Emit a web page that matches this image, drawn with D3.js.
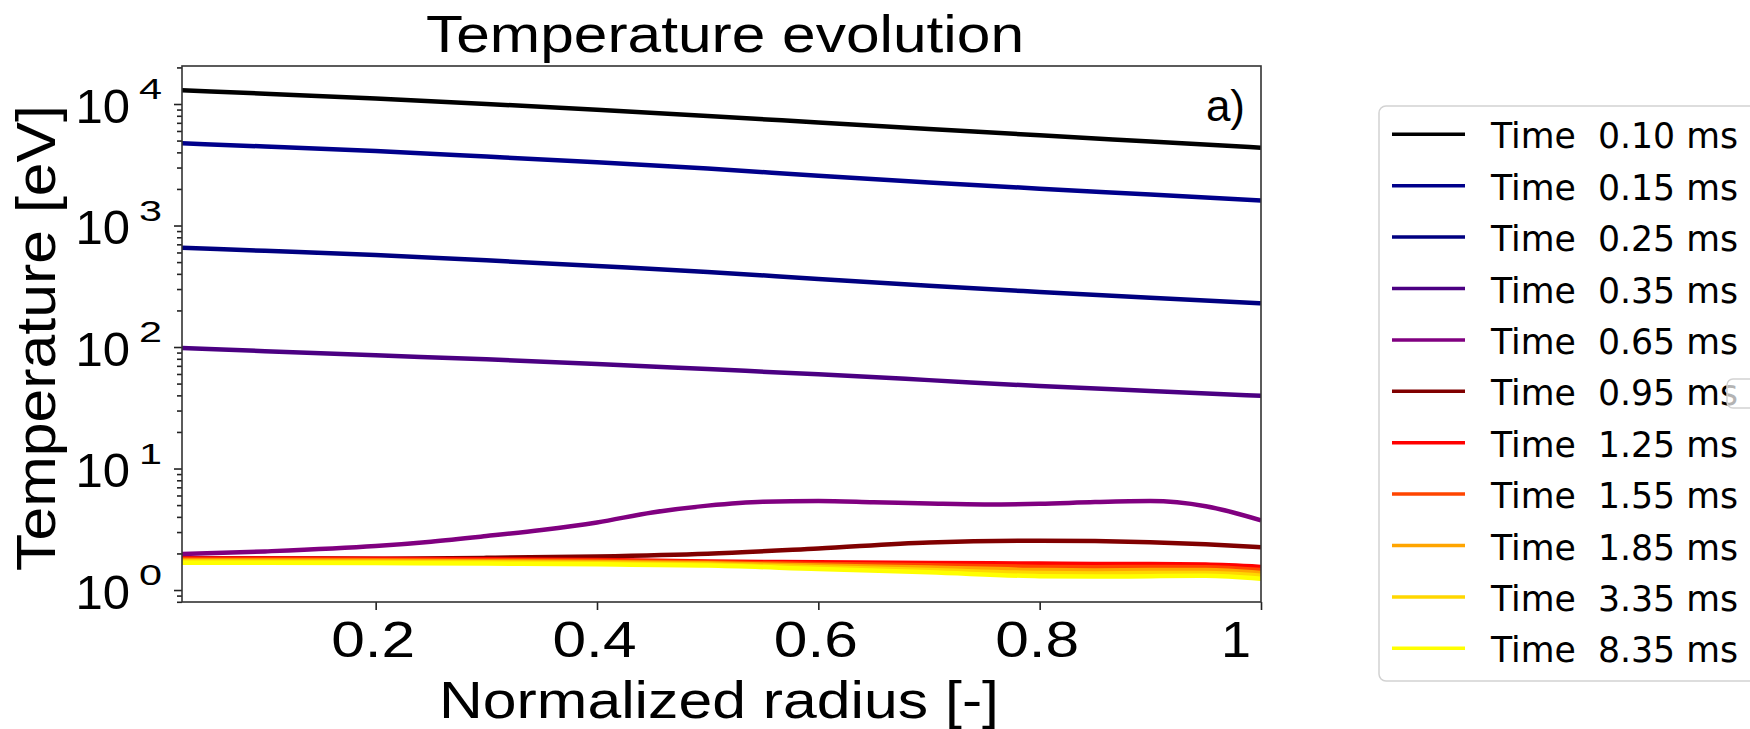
<!DOCTYPE html>
<html>
<head>
<meta charset="utf-8">
<script src="https://cdn.jsdelivr.net/npm/d3@7"></script>
<style>
  html, body { margin: 0; padding: 0; background: #fff; overflow: hidden; }
  text { font-family: "Liberation Sans", Arial, sans-serif; fill: #000; }
  .legend text { font-family: "DejaVu Sans", sans-serif; white-space: pre; }
</style>
</head>
<body>
<svg id="chart" width="1750" height="729"></svg>
<script>
// Radial grids (normalized radius) on which the profiles are sampled
const radiusCore = [0.025, 0.1, 0.2, 0.3, 0.4, 0.5, 0.6, 0.7, 0.8, 0.9, 1.0];
const radiusEdge = [0.025, 0.1, 0.2, 0.3, 0.4, 0.5, 0.6, 0.7, 0.8, 0.85, 0.9, 0.95, 1.0];
const radiusFine = [0.025, 0.1, 0.2, 0.25, 0.3, 0.35, 0.4, 0.45, 0.5, 0.55, 0.6, 0.65, 0.7, 0.75, 0.8, 0.85, 0.9, 0.95, 1.0];

// Electron temperature profiles [eV] at each time slice
const temp010 = [12970, 12150, 11110, 10010, 8960, 7970, 7050, 6240, 5520, 4910, 4370];
const temp015 = [4750, 4470, 4100, 3690, 3310, 2940, 2570, 2260, 2010, 1800, 1610];
const temp025 = [657, 619, 571, 517, 464, 415, 363, 319, 284, 254, 229];
const temp035 = [98.1, 92.5, 85.5, 79.2, 72.6, 65.8, 59.6, 53.4, 47.7, 43.5, 39.7];
const temp065 = [1.98, 2.08, 2.30, 2.50, 2.78, 3.12, 3.60, 4.35, 4.95, 5.33, 5.40, 5.28, 5.15, 5.06, 5.12, 5.30, 5.40, 4.90, 3.75];
const temp095 = [1.82, 1.82, 1.81, 1.84, 1.89, 1.99, 2.20, 2.46, 2.55, 2.53, 2.47, 2.38, 2.25];
const temp125 = [1.82, 1.82, 1.81, 1.79, 1.77, 1.72, 1.69, 1.67, 1.65, 1.64, 1.64, 1.62, 1.55];
const temp155 = [1.79, 1.78, 1.77, 1.76, 1.74, 1.69, 1.64, 1.60, 1.55, 1.54, 1.55, 1.54, 1.46];
const temp185 = [1.75, 1.75, 1.74, 1.72, 1.70, 1.66, 1.59, 1.53, 1.46, 1.45, 1.46, 1.46, 1.38];
const temp335 = [1.72, 1.71, 1.70, 1.69, 1.66, 1.62, 1.54, 1.46, 1.38, 1.37, 1.38, 1.38, 1.31];
const temp835 = [1.68, 1.68, 1.67, 1.65, 1.63, 1.59, 1.49, 1.40, 1.30, 1.29, 1.30, 1.31, 1.24];

const timeLabels = ["0.10", "0.15", "0.25", "0.35", "0.65", "0.95", "1.25", "1.55", "1.85", "3.35", "8.35"];
const seriesColors = ["#000000", "#00008b", "#000080", "#4b0082", "#800080", "#800000",
                      "#ff0000", "#ff4500", "#ffa500", "#ffd700", "#ffff00"];
const seriesRadius = [radiusCore, radiusCore, radiusCore, radiusCore, radiusFine, radiusEdge,
                      radiusEdge, radiusEdge, radiusEdge, radiusEdge, radiusEdge];
const seriesTemp = [temp010, temp015, temp025, temp035, temp065, temp095,
                    temp125, temp155, temp185, temp335, temp835];

const xTickValues = [0.2, 0.4, 0.6, 0.8, 1];
const xTickLabels = ["0.2", "0.4", "0.6", "0.8", "1"];
const yTickValues = [1, 10, 100, 1000, 10000];
const yTickExponents = ["0", "1", "2", "3", "4"];
const xDomain = [0.025, 1.0];
const yDomain = [0.797, 20550];

const titleText = "Temperature evolution";
const xLabelText = "Normalized radius [-]";
const yLabelText = "Temperature [eV]";
const panelTag = "a)";

// Layout
const plot = { left: 182, right: 1261, top: 66, bottom: 602 };
const svg = d3.select("#chart");

const x = d3.scaleLinear().domain(xDomain).range([plot.left, plot.right]);
const y = d3.scaleLog().domain(yDomain).range([plot.bottom, plot.top]);

// Clip lines to the axes box
svg.append("defs").append("clipPath").attr("id", "plotClip")
  .append("rect")
  .attr("x", plot.left).attr("y", plot.top)
  .attr("width", plot.right - plot.left).attr("height", plot.bottom - plot.top);

// Profiles
const line = d3.line().curve(d3.curveMonotoneX);
const series = seriesTemp.map((vals, i) => ({
  color: seriesColors[i],
  pts: vals.map((v, j) => [x(seriesRadius[i][j]), y(v)])
}));
svg.append("g").attr("clip-path", "url(#plotClip)")
  .selectAll("path").data(series).join("path")
  .attr("d", d => line(d.pts))
  .attr("fill", "none")
  .attr("stroke", d => d.color)
  .attr("stroke-width", 4.5)
  .attr("stroke-linejoin", "round")
  .attr("stroke-linecap", "butt");

// Minor y ticks
const minorTicks = y.ticks().filter(v => !yTickValues.includes(v));
const yMinor = svg.append("g").attr("transform", `translate(${plot.left},0)`)
  .call(d3.axisLeft(y).tickValues(minorTicks).tickSize(5).tickFormat(""));
yMinor.select(".domain").remove();

// Major y ticks with power-of-ten labels
const yMajor = svg.append("g").attr("transform", `translate(${plot.left},0)`)
  .call(d3.axisLeft(y).tickValues(yTickValues).tickSize(8).tickFormat(""));
yMajor.select(".domain").remove();
yMajor.selectAll(".tick").each(function(d, i) {
  const g = d3.select(this);
  g.append("text")
    .attr("x", 130 - plot.left).attr("y", 18)
    .attr("text-anchor", "end")
    .attr("font-size", 49)
    .text("10");
  g.append("text")
    .attr("x", 139 - plot.left).attr("y", -5.5)
    .attr("text-anchor", "start")
    .attr("font-size", 30)
    .attr("textLength", 23).attr("lengthAdjust", "spacingAndGlyphs")
    .text(yTickExponents[i]);
});

// x ticks
const xAxis = svg.append("g").attr("transform", `translate(0,${plot.bottom})`)
  .call(d3.axisBottom(x).tickValues(xTickValues).tickSize(8).tickFormat((d, i) => xTickLabels[i]));
xAxis.select(".domain").remove();
xAxis.selectAll(".tick text")
  .attr("y", 55).attr("dy", 0)
  .attr("font-size", 50)
  .attr("fill", "#000")
  .attr("font-family", "Liberation Sans, Arial, sans-serif")
  .attr("dx", (d, i) => i === xTickLabels.length - 1 ? -25.5 : -3)
  .attr("textLength", (d, i) => i === xTickLabels.length - 1 ? 30 : 84)
  .attr("lengthAdjust", "spacingAndGlyphs");

svg.selectAll(".tick line").attr("stroke", "#222").attr("stroke-width", 1.6);

// Axes frame
svg.append("rect")
  .attr("x", plot.left).attr("y", plot.top)
  .attr("width", plot.right - plot.left).attr("height", plot.bottom - plot.top)
  .attr("fill", "none").attr("stroke", "#333").attr("stroke-width", 1.6);

// Title and axis labels
svg.append("text")
  .attr("x", 426).attr("y", 52)
  .attr("font-size", 52)
  .attr("textLength", 598).attr("lengthAdjust", "spacingAndGlyphs")
  .text(titleText);

svg.append("text")
  .attr("x", 439).attr("y", 718)
  .attr("font-size", 52)
  .attr("textLength", 560).attr("lengthAdjust", "spacingAndGlyphs")
  .text(xLabelText);

svg.append("text")
  .attr("transform", "translate(55,571) rotate(-90)")
  .attr("font-size", 56)
  .attr("textLength", 466).attr("lengthAdjust", "spacingAndGlyphs")
  .text(yLabelText);

svg.append("text")
  .attr("x", 1245).attr("y", 121)
  .attr("text-anchor", "end")
  .attr("font-size", 44)
  .text(panelTag);

// Legend
const legend = svg.append("g").attr("class", "legend");
legend.append("rect")
  .attr("x", 1379).attr("y", 106)
  .attr("width", 420).attr("height", 575)
  .attr("rx", 7)
  .attr("fill", "#fff").attr("stroke", "#d2d2d2").attr("stroke-width", 1.5);

const rowY = i => 134.3 + i * 51.4;
const rows = legend.selectAll("g.row").data(timeLabels).join("g").attr("class", "row");
rows.append("line")
  .attr("x1", 1392).attr("x2", 1465)
  .attr("y1", (d, i) => rowY(i)).attr("y2", (d, i) => rowY(i))
  .attr("stroke", (d, i) => seriesColors[i])
  .attr("stroke-width", 3.5);
rows.append("text")
  .attr("x", 1491).attr("y", (d, i) => rowY(i) + 14)
  .attr("font-size", 36)
  .attr("xml:space", "preserve")
  .attr("textLength", 247).attr("lengthAdjust", "spacingAndGlyphs")
  .text(d => `Time  ${d} ms`);

// Small overlapping box at the right edge
legend.append("rect")
  .attr("x", 1727).attr("y", 379)
  .attr("width", 40).attr("height", 29)
  .attr("rx", 6)
  .attr("fill", "#fff").attr("fill-opacity", 0.7)
  .attr("stroke", "#d2d2d2").attr("stroke-width", 1.5);
</script>
</body>
</html>
